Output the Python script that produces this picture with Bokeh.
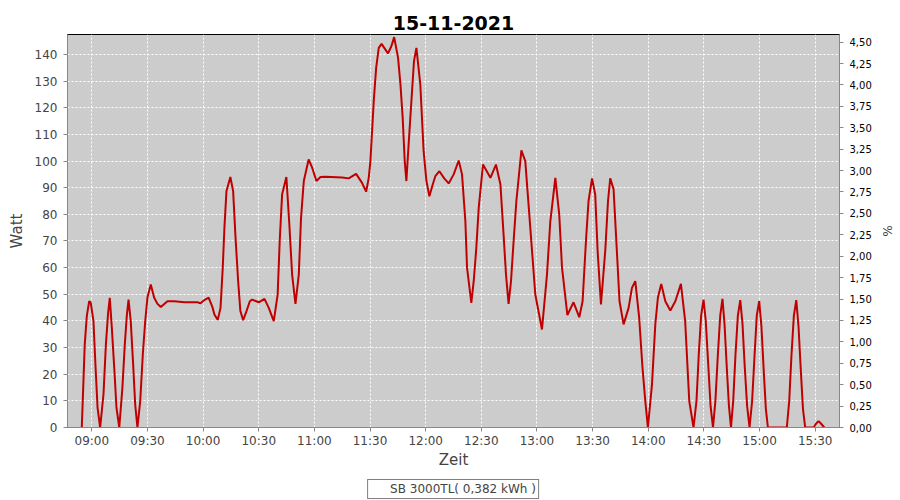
import pandas as pd
from bokeh.plotting import figure
from bokeh.layouts import column
from bokeh.models import (Range1d, LinearAxis, FixedTicker, DatetimeTickFormatter,
                          Legend, LegendItem, ColumnDataSource)
from bokeh.embed import file_html
from bokeh.resources import INLINE

# ---------------- data ----------------
title_text = "15-11-2021"
day = "2021-11-15"
start_clock = "09:00"
series_label = "SB 3000TL( 0,382 kWh )"
x_label = "Zeit"
y_label = "Watt"
y2_label = "%"

# minutes after 09:00
minutes_after_0900 = [
    -5.4, -4.5, -3.8, -2.7, -1.4, -0.6, 0.9, 2.0, 3.1, 4.5,
    6.3, 7.6, 8.8, 9.7, 10.8, 12.1, 13.3, 14.8,
    16.5, 17.8, 18.9, 19.8, 21.0, 22.3, 23.4, 24.6,
    26.1, 27.5, 28.8, 30.0, 31.8, 33.6, 35.3, 37.2, 40.8, 44.4, 50.0, 57.0,
    58.6, 60.4, 63.0, 64.9, 66.1, 67.9, 69.4, 70.6, 71.5, 72.6, 74.7, 76.2,
    77.4, 78.9, 80.1, 81.6, 83.4, 85.2, 86.4, 90.0, 93.1, 95.4, 98.1,
    100.2, 101.3, 102.6, 104.9, 106.5, 108.0, 109.8, 111.6, 112.8, 114.3,
    116.9, 118.8, 121.1, 123.3, 125.9, 135.0, 138.5, 142.5, 145.7, 147.9,
    149.3, 150.2, 151.1, 152.0, 153.3, 154.7, 156.2, 159.7, 161.5, 163.0,
    165.1, 166.4, 167.6, 168.7, 169.6, 170.8, 172.3, 173.7, 175.0, 177.1,
    178.9, 180.4, 182.0, 183.8, 185.2, 187.4, 190.0, 192.4, 195.1, 197.8,
    199.6, 201.4, 202.3, 204.6, 205.9, 207.3, 208.6, 210.9, 214.9, 217.9,
    220.3, 222.0, 223.3, 224.7, 226.0, 227.4, 228.9, 231.6, 233.7, 236.0,
    239.1, 242.7, 245.4, 247.2, 249.9, 252.0, 253.5, 256.4, 259.7, 262.8,
    264.6, 266.4, 267.8, 269.7, 271.4, 272.7, 274.5, 276.8, 278.3, 279.5,
    281.3, 282.6, 284.5, 286.7, 289.4, 291.2, 293.0, 295.1, 296.9, 298.4,
    299.8, 302.0, 303.8, 305.2, 307.0, 309.2, 311.9, 314.6, 317.6, 319.9,
    322.1, 324.4, 326.0, 327.2, 328.5, 329.8, 331.0, 332.3, 333.6, 334.9,
    336.2, 337.5, 338.8, 340.0, 341.1, 342.3, 343.5, 344.6,
    345.8, 347.0, 348.3, 349.6, 350.8, 352.0, 353.3, 354.6,
    356.0, 357.3, 358.5, 359.8, 361.0, 362.2, 363.4, 364.5,
    374.7, 376.0, 377.2, 378.5, 379.8, 381.0, 382.2, 383.4, 384.6,
    389.2, 390.5, 391.8, 393.2, 394.9,
]

watt = [
    0, 17.4, 31.2, 41.8, 47.4, 47.0, 39.9, 23.0, 7.5, 0,
    12.4, 31.2, 43.0, 48.7, 37.4, 22.4, 7.5, 0,
    14.9, 31.2, 42.2, 48.0, 39.9, 23.6, 8.6, 0,
    9.9, 27.4, 39.9, 48.8, 53.7, 48.8, 46.5, 45.2, 47.4, 47.4, 47.0, 47.0,
    46.6, 47.7, 48.7, 45.5, 42.4, 40.4, 44.9, 60.0, 75.0, 88.7, 94.0, 88.7,
    72.4, 54.9, 43.7, 40.3, 43.7, 47.4, 48.0, 47.0, 48.3, 44.9, 39.9,
    49.9, 69.9, 87.5, 94.0, 76.2, 57.4, 46.4, 57.4, 78.7, 92.5,
    100.6, 97.5, 92.5, 94.0, 94.1, 93.8, 93.5, 95.2, 91.8, 88.5,
    93.7, 100.0, 111.2, 122.5, 135.0, 142.5, 144.0, 140.4, 143.1, 146.5,
    138.8, 128.8, 116.3, 100.0, 92.5, 106.2, 122.5, 137.5, 142.5, 128.8,
    103.7, 92.5, 86.8, 91.2, 94.3, 96.2, 93.5, 91.6, 95.0, 100.2,
    95.0, 77.4, 60.0, 46.8, 54.9, 67.4, 82.5, 98.7, 93.7, 98.7,
    91.2, 72.4, 57.4, 46.4, 54.9, 69.9, 85.0, 104.0, 100.0, 78.7,
    49.9, 36.8, 57.4, 77.4, 93.7, 80.0, 60.0, 42.2, 47.0, 41.4,
    47.4, 69.9, 85.0, 93.5, 87.5, 66.2, 46.2, 66.2, 85.0, 93.5,
    89.4, 72.4, 47.4, 38.7, 44.9, 52.4, 54.9, 41.2, 22.4, 9.9,
    0, 16.1, 38.7, 48.8, 53.9, 47.4, 43.9, 47.4, 53.9, 39.9,
    9.9, 0, 10.0, 27.0, 42.0, 48.0, 40.0, 24.0, 8.0, 0,
    10.0, 27.0, 42.0, 48.3, 39.0, 23.0, 8.0, 0,
    10.0, 27.0, 42.0, 47.8, 39.0, 23.0, 8.0, 0,
    10.0, 27.0, 42.0, 47.4, 38.0, 22.0, 7.0, 0,
    0, 10.0, 27.0, 42.0, 47.8, 38.0, 22.0, 7.0, 0,
    0, 1.5, 2.4, 1.4, 0,
]

x_tick_labels = ["09:00", "09:30", "10:00", "10:30", "11:00", "11:30", "12:00",
                 "12:30", "13:00", "13:30", "14:00", "14:30", "15:00", "15:30"]
x_start_offset_min = -13.1
x_end_offset_min = 403.1
watt_max = 147.5
watt_ticks = [0, 10, 20, 30, 40, 50, 60, 70, 80, 90, 100, 110, 120, 130, 140]
pct_max = 4.589
pct_ticks = [0.0, 0.25, 0.5, 0.75, 1.0, 1.25, 1.5, 1.75, 2.0, 2.25, 2.5,
             2.75, 3.0, 3.25, 3.5, 3.75, 4.0, 4.25, 4.5]
pct_labels = ["0,00", "0,25", "0,50", "0,75", "1,00", "1,25", "1,50", "1,75",
              "2,00", "2,25", "2,50", "2,75", "3,00", "3,25", "3,50", "3,75",
              "4,00", "4,25", "4,50"]

# ---------------- build ----------------
base = pd.Timestamp(f"{day} {start_clock}")
times = [base + pd.Timedelta(minutes=m) for m in minutes_after_0900]
src = ColumnDataSource(dict(t=times, w=watt))

x_tick_ms = [int(pd.Timestamp(f"{day} {lbl}").value // 10**6) for lbl in x_tick_labels]

FONT = "DejaVu Sans"
GRAY = "#444444"
RED = "#c00000"

p = figure(frame_width=772, frame_height=393, x_axis_type="datetime",
           x_range=Range1d(base + pd.Timedelta(minutes=x_start_offset_min),
                           base + pd.Timedelta(minutes=x_end_offset_min)),
           y_range=Range1d(0, watt_max),
           output_backend="svg", toolbar_location=None,
           min_border_left=67, min_border_right=61, min_border_top=34,
           min_border_bottom=50)

p.extra_y_ranges = {"pct": Range1d(0, pct_max)}

p.title.text = title_text
p.title.text_font = FONT
p.title.text_font_size = "19px"
p.title.text_font_style = "bold"
p.title.text_color = "black"
p.title.align = "center"
p.title.standoff = 10
p.title.offset = 0

p.background_fill_color = "#cccccc"
p.border_fill_color = "white"
p.outline_line_color = "black"
p.outline_line_width = 1

xt = FixedTicker(ticks=x_tick_ms)
p.xaxis.ticker = xt
p.xgrid.ticker = xt
p.xaxis.formatter = DatetimeTickFormatter(minutes="%H:%M", hourmin="%H:%M",
                                          hours="%H:%M", days="%H:%M")
yt = FixedTicker(ticks=watt_ticks)
p.yaxis.ticker = yt
p.ygrid.ticker = yt

for g in (p.xgrid, p.ygrid):
    g.grid_line_color = "white"
    g.grid_line_dash = "2 2"
    g.grid_line_width = 1

for ax in (p.xaxis, p.yaxis):
    ax.axis_line_color = "#888888"
    ax.major_tick_line_color = "#888888"
    ax.major_tick_out = 4
    ax.major_tick_in = 0
    ax.minor_tick_line_color = None
    ax.major_label_text_font = FONT
    ax.major_label_text_font_size = "12px"
    ax.major_label_text_color = GRAY
    ax.axis_label_text_font = FONT
    ax.axis_label_text_font_size = "15px"
    ax.axis_label_text_font_style = "normal"
    ax.axis_label_text_color = GRAY

p.xaxis.axis_label = x_label
p.xaxis.major_label_standoff = 2
p.xaxis.axis_label_standoff = 0
p.yaxis.axis_label = y_label
p.yaxis.major_label_standoff = 6
p.yaxis.axis_label_standoff = 6

ax2 = LinearAxis(y_range_name="pct", axis_label=y2_label,
                 ticker=FixedTicker(ticks=pct_ticks))
ax2.major_label_overrides = {t: l for t, l in zip(pct_ticks, pct_labels)}
ax2.axis_line_color = "#888888"
ax2.major_tick_line_color = "#888888"
ax2.major_tick_out = 4
ax2.major_tick_in = 0
ax2.minor_tick_line_color = None
ax2.major_label_text_font = FONT
ax2.major_label_text_font_size = "10px"
ax2.major_label_text_color = "black"
ax2.major_label_standoff = 6
ax2.axis_label_text_font = FONT
ax2.axis_label_text_font_size = "12px"
ax2.axis_label_text_font_style = "normal"
ax2.axis_label_text_color = GRAY
ax2.axis_label_standoff = 5
p.add_layout(ax2, "right")

p.line("t", "w", source=src, line_color=RED, line_width=2)

# ---- legend strip below the chart (separate small figure) ----
p2 = figure(width=900, height=23, x_range=Range1d(0, 1), y_range=Range1d(0, 1),
            x_axis_location=None, y_axis_location=None,
            output_backend="svg", toolbar_location=None, min_border=0)
p2.grid.visible = False
p2.outline_line_color = None
p2.background_fill_color = "white"
p2.border_fill_color = "white"
key = p2.line(x=[], y=[], line_color=RED, line_width=2)
legend = Legend(items=[LegendItem(label=series_label, renderers=[key])],
                location="center", orientation="horizontal",
                border_line_color="black", border_line_width=1,
                background_fill_color="white", background_fill_alpha=1.0,
                label_text_font=FONT, label_text_font_size="12px",
                label_text_color=GRAY, glyph_width=16, glyph_height=12,
                label_standoff=4, label_height=12, padding=2, spacing=0,
                margin=0)
p2.add_layout(legend, "center")

layout = column(p, p2, spacing=0)

open("out.html", "w").write(file_html(layout, INLINE))
